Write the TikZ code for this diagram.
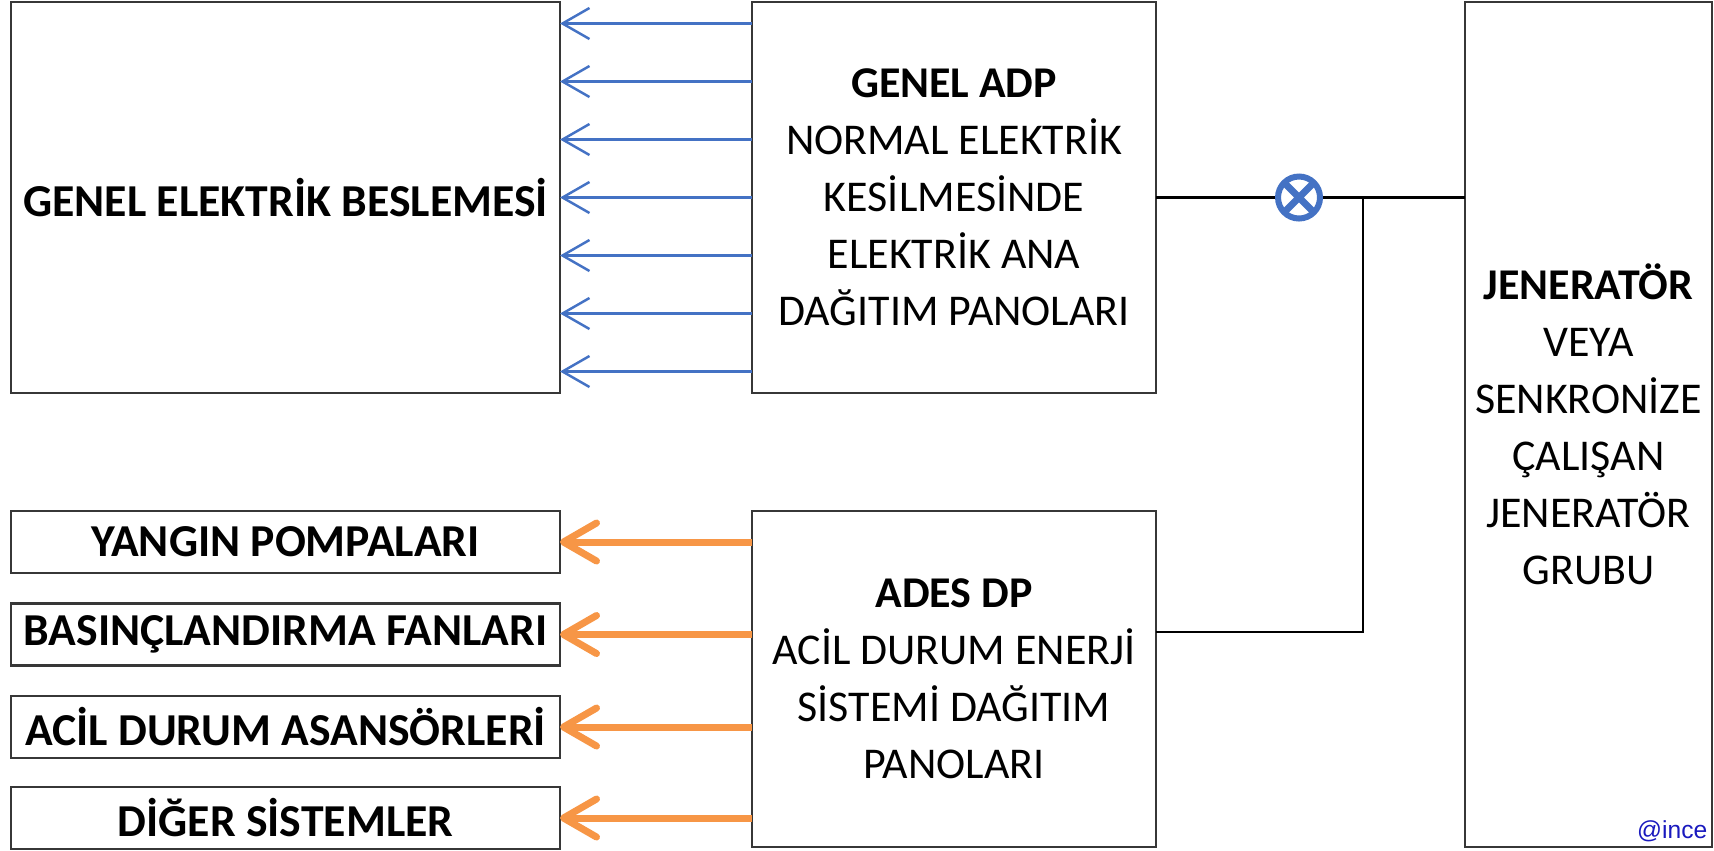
\documentclass[tikz,border=0pt]{standalone}
\usepackage{fontspec}
\setmainfont{Carlito}
\newfontfamily\tagfont{Liberation Sans}
\usetikzlibrary{arrows.meta}
\definecolor{lineblue}{RGB}{68,114,196}
\definecolor{loadorange}{RGB}{247,150,70}
\definecolor{boxgray}{RGB}{55,55,55}
\definecolor{tagblue}{RGB}{25,25,190}
\tikzset{
  box/.style={draw=boxgray, line width=0.6pt, inner sep=0pt, outer sep=0pt, align=center,
    font=\fontsize{12.5}{16.2}\selectfont},
  label/.style={box, font=\fontsize{13}{16.2}\selectfont\bfseries},
  feed/.style={lineblue, line width=0.7pt, -{Straight Barb[length=2.7mm,width=3.1mm]}},
  load/.style={loadorange, line width=0.7mm, -{Straight Barb[length=3.3mm,width=3.8mm,round]}},
  wire/.style={black, line width=0.7pt},
  switch/.style={circle, draw=lineblue, line width=0.6mm, fill=white, minimum size=4.2mm, inner sep=0pt}
}

\begin{document}
\begin{tikzpicture}[x=0.1mm, y=-0.1mm]
  \useasboundingbox (0,0) rectangle (1714,850);
  % boxes
  \node[label, minimum width=54.9mm, minimum height=39.1mm] (geb) at (285.5,197.5) {GENEL ELEKTRİK BESLEMESİ};
  \node[box, minimum width=40.4mm, minimum height=39.1mm] (adp) at (954,197.5)
    {\textbf{GENEL ADP}\\NORMAL ELEKTRİK\\KESİLMESİNDE\\ELEKTRİK ANA\\DAĞITIM PANOLARI};
  \node[box, minimum width=24.7mm, minimum height=84.5mm] (jen) at (1588.5,424.5)
    {\textbf{JENERATÖR}\\VEYA\\SENKRONİZE\\ÇALIŞAN\\JENERATÖR\\GRUBU};
  \node[box, minimum width=40.4mm, minimum height=33.6mm] (ades) at (954,679)
    {\textbf{ADES DP}\\ACİL DURUM ENERJİ\\SİSTEMİ DAĞITIM\\PANOLARI};
  \node[label, minimum width=54.9mm, minimum height=6.2mm] (yp) at (285.5,542) {YANGIN POMPALARI};
  \node[label, minimum width=54.9mm, minimum height=6.2mm] (bf) at (285.5,634.5) {BASINÇLANDIRMA FANLARI};
  \node[label, minimum width=54.9mm, minimum height=6.2mm] (ada) at (285.5,727) {ACİL DURUM ASANSÖRLERİ};
  \node[label, minimum width=54.9mm, minimum height=6.2mm] (ds) at (285.5,818) {DİĞER SİSTEMLER};
  \node[anchor=base east, inner sep=0pt, font=\tagfont\fontsize{7}{8}\selectfont, text=tagblue] (tag) at (1708,838) {@ince};

  % switch
  \node[switch] (sw) at (1299,197.5) {};
  \draw[lineblue, line width=0.7mm] ([shift={(45:2.1mm)}]sw.center) -- ([shift={(225:2.1mm)}]sw.center)
    ([shift={(135:2.1mm)}]sw.center) -- ([shift={(-45:2.1mm)}]sw.center);
  \coordinate (tie) at (1363,197.5);

  % wires
  \draw[wire] (adp) -- (sw);
  \draw[wire] (sw) -- (sw -| jen.west);
  \draw[wire] ([yshift=4.7mm]ades.east) -| (tie);

  % normal feed
  \draw[feed, transform canvas={yshift=17.4mm}] (adp) -- (geb);
  \draw[feed, transform canvas={yshift=11.6mm}] (adp) -- (geb);
  \draw[feed, transform canvas={yshift=5.8mm}]  (adp) -- (geb);
  \draw[feed] (adp) -- (geb);
  \draw[feed, transform canvas={yshift=-5.8mm}]  (adp) -- (geb);
  \draw[feed, transform canvas={yshift=-11.6mm}] (adp) -- (geb);
  \draw[feed, transform canvas={yshift=-17.4mm}] (adp) -- (geb);

  % emergency loads
  \draw[load] (ades.west |- yp) -- (yp);
  \draw[load] (ades.west |- bf) -- (bf);
  \draw[load] (ades.west |- ada) -- (ada);
  \draw[load] (ades.west |- ds) -- (ds);
\end{tikzpicture}
\end{document}
